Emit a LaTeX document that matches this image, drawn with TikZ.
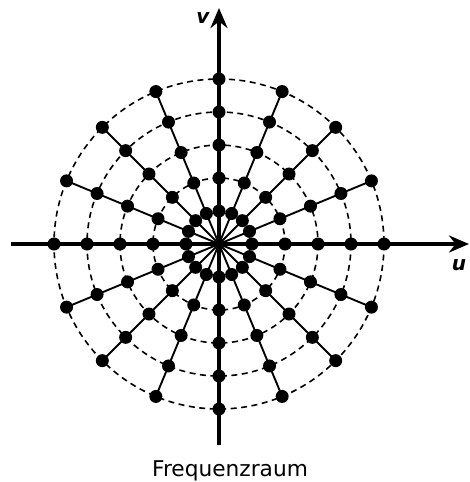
\documentclass[tikz,border=0pt]{standalone}
\usepackage{fontspec}
\setmainfont{DejaVu Sans}
\usetikzlibrary{arrows.meta,calc}
\begin{document}
\begin{tikzpicture}[x=1pt,y=-1pt,
  axis/.style={line width=4pt,-{Stealth[length=20pt,width=17pt,inset=6.5pt]}},
  spoke/.style={line width=1.9pt},
  ring/.style={line width=1.6pt,dash pattern=on 6pt off 4.5pt},
  dot/.style={circle,fill=black,inner sep=0pt,minimum size=13pt},
  axlabel/.style={font=\fontsize{20}{22}\selectfont\bfseries\itshape,inner sep=0pt,anchor=base}]
\useasboundingbox (0,0) rectangle (469,482);
\coordinate (O) at (219,244);
% point coordinates
\foreach \i in {0,...,15}
  \foreach \k in {1,...,5}
    \coordinate (p\i-\k) at ($(O)+({\i*22.5}:{33*\k})$);
% dashed rings
\foreach \r in {66,99,132,165}
  \draw[ring] (O) circle[radius=\r];
% spokes
\foreach \i in {1,2,3,5,6,7,9,10,11,13,14,15}
  \draw[spoke] (O) -- (p\i-5);
% axes
\coordinate (xl) at (11,244);
\coordinate (xr) at (469,244);
\coordinate (yb) at (219,445);
\coordinate (yt) at (219,8);
\draw[axis] (xl) -- (xr);
\draw[axis] (yb) -- (yt);
% dots
\foreach \i in {0,...,15}
  \foreach \k in {1,...,5}
    \node[dot] (d\i-\k) at (p\i-\k) {};
\node[axlabel] (v) at (203,23) {v};
\node[axlabel] (u) at (459,270) {u};
\node[font=\fontsize{21.7}{26}\selectfont,anchor=base,inner sep=0pt] (cap) at (230,476) {Frequenzraum};
\end{tikzpicture}
\end{document}
